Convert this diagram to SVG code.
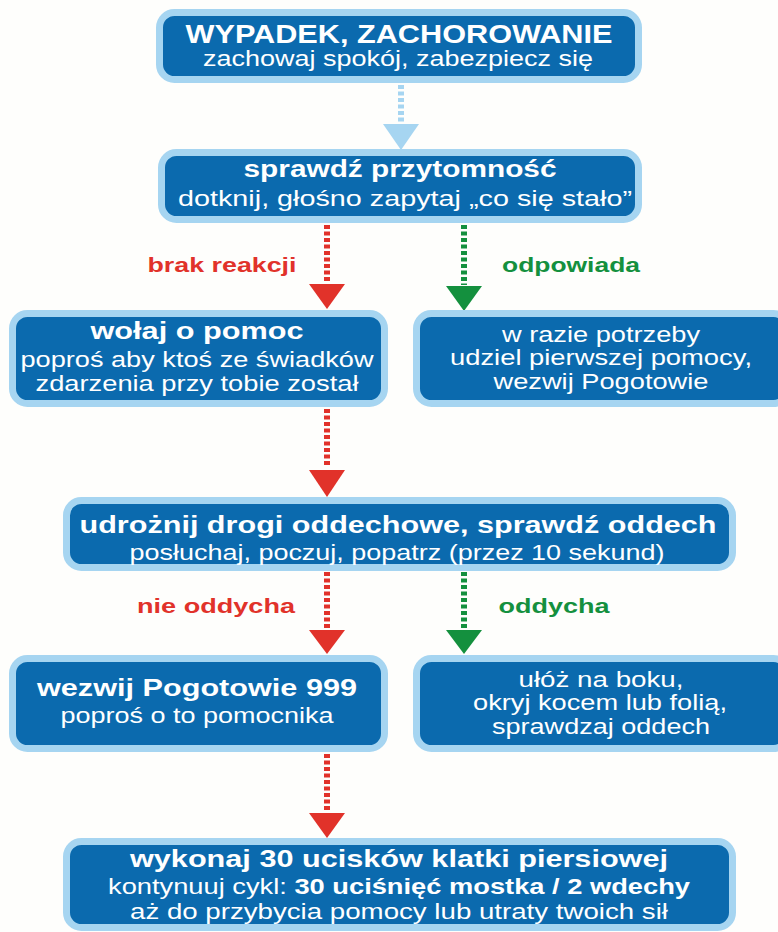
<svg xmlns="http://www.w3.org/2000/svg" width="778" height="932" viewBox="0 0 778 932">
<style>
.box{fill:#0b6aae;stroke:#a6d5f1;stroke-width:7}
text{font-family:"Liberation Sans",Arial,Helvetica,sans-serif;fill:#ffffff;text-anchor:middle}
.t{font-weight:bold;font-size:23px}
.s{font-size:22px}
.lr{fill:#e1322a;font-weight:bold;font-size:21px}
.lg{fill:#14903e;font-weight:bold;font-size:21px}
.dr{stroke:#e1322a;stroke-width:6;stroke-dasharray:4 2.5;fill:none}
.dg{stroke:#14903e;stroke-width:6;stroke-dasharray:4 2.5;fill:none}
.db{stroke:#a6d5f1;stroke-width:6;stroke-dasharray:4 2.5;fill:none}
</style>
<rect width="778" height="932" fill="#fefefc"/>
<g id="connectors">
<line class="db" x1="401" y1="85" x2="401" y2="122"/>
<polygon points="383,124 419,124 401,150" fill="#a6d5f1"/>
<line class="dr" x1="327" y1="225" x2="327" y2="282"/>
<polygon points="309,284 345,284 327,309" fill="#e1322a"/>
<line class="dg" x1="464" y1="225" x2="464" y2="285"/>
<polygon points="446,286 482,286 464,311" fill="#14903e"/>
<line class="dr" x1="327" y1="409" x2="327" y2="467"/>
<polygon points="309,470 345,470 327,497" fill="#e1322a"/>
<line class="dr" x1="327" y1="572" x2="327" y2="628"/>
<polygon points="309,630 345,630 327,654" fill="#e1322a"/>
<line class="dg" x1="464" y1="572" x2="464" y2="628"/>
<polygon points="446,630 482,630 464,654" fill="#14903e"/>
<line class="dr" x1="327" y1="754" x2="327" y2="810"/>
<polygon points="309,813 345,813 327,838" fill="#e1322a"/>
<text class="lr" x="222" y="272" textLength="149" lengthAdjust="spacingAndGlyphs">brak reakcji</text>
<text class="lg" x="571" y="272" textLength="138" lengthAdjust="spacingAndGlyphs">odpowiada</text>
<text class="lr" x="216" y="613" textLength="158" lengthAdjust="spacingAndGlyphs">nie oddycha</text>
<text class="lg" x="554" y="613" textLength="111" lengthAdjust="spacingAndGlyphs">oddycha</text>
</g>
<g id="n1">
<rect class="box" x="159.5" y="12.5" width="479" height="67" rx="15"/>
<text class="t" style="font-size:25px" x="399" y="43" textLength="427" lengthAdjust="spacingAndGlyphs">WYPADEK, ZACHOROWANIE</text>
<text class="s" x="398" y="66" textLength="390" lengthAdjust="spacingAndGlyphs">zachowaj spokój, zabezpiecz się</text>
</g>
<g id="n2">
<rect class="box" x="161.5" y="152.5" width="477" height="67" rx="15"/>
<text class="t" x="400" y="177" textLength="313" lengthAdjust="spacingAndGlyphs">sprawdź przytomność</text>
<text class="s" x="405" y="206" textLength="454" lengthAdjust="spacingAndGlyphs">dotknij, głośno zapytaj „co się stało”</text>
</g>
<g id="n3">
<rect class="box" x="12.5" y="313.5" width="372" height="90" rx="15"/>
<text class="t" x="197" y="339" textLength="213" lengthAdjust="spacingAndGlyphs">wołaj o pomoc</text>
<text class="s" x="197" y="367" textLength="353" lengthAdjust="spacingAndGlyphs">poproś aby ktoś ze świadków</text>
<text class="s" x="197" y="391" textLength="323" lengthAdjust="spacingAndGlyphs">zdarzenia przy tobie został</text>
</g>
<g id="n4">
<rect class="box" x="416.5" y="313.5" width="372" height="90" rx="15"/>
<text class="s" x="601" y="342" textLength="198" lengthAdjust="spacingAndGlyphs">w razie potrzeby</text>
<text class="s" x="601" y="365" textLength="302" lengthAdjust="spacingAndGlyphs">udziel pierwszej pomocy,</text>
<text class="s" x="601" y="389" textLength="215" lengthAdjust="spacingAndGlyphs">wezwij Pogotowie</text>
</g>
<g id="n5">
<rect class="box" x="66.5" y="500.5" width="666" height="67" rx="15"/>
<text class="t" x="398" y="533" textLength="637" lengthAdjust="spacingAndGlyphs">udrożnij drogi oddechowe, sprawdź oddech</text>
<text class="s" x="397" y="560" textLength="535" lengthAdjust="spacingAndGlyphs">posłuchaj, poczuj, popatrz (przez 10 sekund)</text>
</g>
<g id="n6">
<rect class="box" x="12.5" y="658.5" width="372" height="90" rx="15"/>
<text class="t" x="197" y="696" textLength="320" lengthAdjust="spacingAndGlyphs">wezwij Pogotowie 999</text>
<text class="s" x="197" y="723" textLength="273" lengthAdjust="spacingAndGlyphs">poproś o to pomocnika</text>
</g>
<g id="n7">
<rect class="box" x="416.5" y="658.5" width="372" height="90" rx="15"/>
<text class="s" x="601" y="687" textLength="165" lengthAdjust="spacingAndGlyphs">ułóż na boku,</text>
<text class="s" x="600" y="710" textLength="254" lengthAdjust="spacingAndGlyphs">okryj kocem lub folią,</text>
<text class="s" x="601" y="734" textLength="218" lengthAdjust="spacingAndGlyphs">sprawdzaj oddech</text>
</g>
<g id="n8">
<rect class="box" x="66.5" y="841.5" width="666" height="86" rx="15"/>
<text class="t" x="399" y="867" textLength="538" lengthAdjust="spacingAndGlyphs">wykonaj 30 ucisków klatki piersiowej</text>
<text class="s" x="399" y="894" textLength="582" lengthAdjust="spacingAndGlyphs">kontynuuj cykl: <tspan font-weight="bold">30 uciśnięć mostka / 2 wdechy</tspan></text>
<text class="s" x="399" y="919" textLength="538" lengthAdjust="spacingAndGlyphs">aż do przybycia pomocy lub utraty twoich sił</text>
</g>
</svg>
